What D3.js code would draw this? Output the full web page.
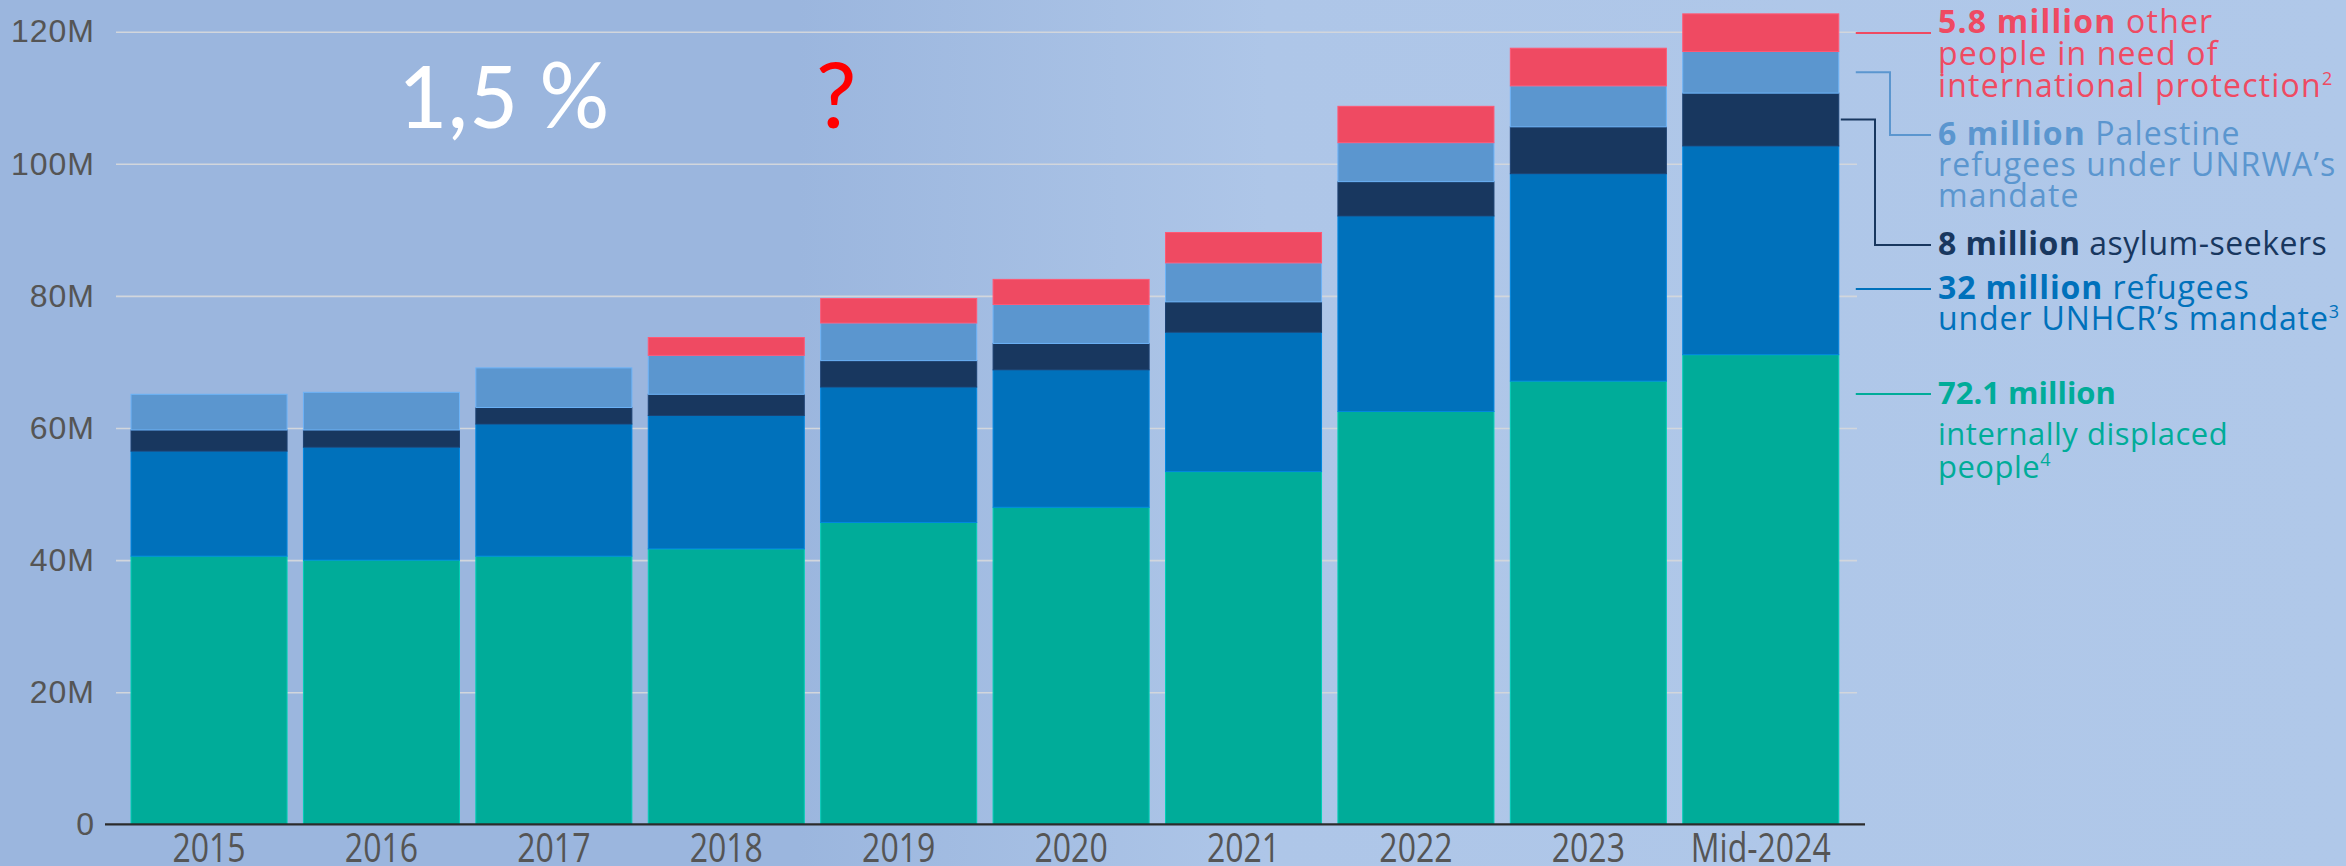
<!DOCTYPE html>
<html>
<head>
<meta charset="utf-8">
<script src="https://cdn.jsdelivr.net/npm/d3@7"></script>
<style>
  body { margin: 0; background: #a6bfe4; }
  svg { display: block; font-family: "Open Sans", sans-serif; }
</style>
</head>
<body>
<figure id="chart" style="margin:0"></figure>
<script>
// values in millions
const years = ['2015', '2016', '2017', '2018', '2019', '2020', '2021', '2022', '2023', 'Mid-2024'];
const idp = [40.6, 40.0, 40.6, 41.7, 45.7, 48.0, 53.4, 62.5, 67.1, 71.1];
const refugees = [15.9, 17.1, 20.0, 20.2, 20.5, 20.8, 21.1, 29.6, 31.4, 31.6];
const asylum = [3.2, 2.6, 2.5, 3.2, 4.0, 4.0, 4.6, 5.2, 7.1, 8.0];
const palestine = [5.4, 5.7, 6.0, 5.9, 5.7, 5.9, 5.9, 5.9, 6.2, 6.3];
const otherNeed = [0, 0, 0, 2.7, 3.7, 3.8, 4.6, 5.5, 5.7, 5.7];
const yTicks = [0, 20, 40, 60, 80, 100, 120];

const keys = ['idp', 'refugees', 'asylum', 'palestine', 'other'];
const colors = {
  idp: '#00ac99',
  refugees: '#0071bb',
  asylum: '#18375f',
  palestine: '#5b96cf',
  other: '#ef4a62'
};

// legend, top to bottom
const legendKeys = ['other', 'palestine', 'asylum', 'refugees', 'idp'];
const legendBold = ['5.8 million', '6 million', '8 million', '32 million', '72.1 million'];
const legendLines = [
  [' other', 'people in need of', 'international protection'],
  [' Palestine', 'refugees under UNRWA\u2019s', 'mandate'],
  [' asylum-seekers'],
  [' refugees', 'under UNHCR\u2019s mandate'],
  ['', 'internally displaced', 'people']
];
const legendSup = ['2', '', '', '3', '4'];

const width = 2346;
const height = 866;

const rows = years.map((yr, i) => ({
  year: yr,
  idp: idp[i],
  refugees: refugees[i],
  asylum: asylum[i],
  palestine: palestine[i],
  other: otherNeed[i]
}));

const svg = d3.select('figure#chart')
  .append('svg')
  .attr('width', width)
  .attr('height', height);

// background: slide gradient, darker left, lighter right
const grad = svg.append('defs').append('linearGradient')
  .attr('id', 'bg')
  .attr('x1', 0).attr('x2', 1).attr('y1', 0).attr('y2', 0);
grad.append('stop').attr('offset', 0.34).attr('stop-color', '#9bb6de');
grad.append('stop').attr('offset', 0.54).attr('stop-color', '#aec6e8');
grad.append('stop').attr('offset', 1).attr('stop-color', '#b0c8e9');
svg.append('rect')
  .attr('width', width)
  .attr('height', height)
  .attr('fill', 'url(#bg)');

const x = d3.scaleBand()
  .domain(years)
  .range([122.4, 1847.4])
  .paddingInner(0.095)
  .paddingOuter(0.05);

const y = d3.scaleLinear()
  .domain([0, 120])
  .range([824.3, 31.7]);

// gridlines + y labels
const gridLeft = 116;
const gridRight = 1857;
const yAxis = svg.append('g')
  .attr('transform', 'translate(' + gridLeft + ',0)')
  .call(d3.axisLeft(y)
    .tickValues(yTicks)
    .tickSize(-(gridRight - gridLeft))
    .tickPadding(21)
    .tickFormat(d => d === 0 ? '0' : d + 'M'));
yAxis.select('.domain').remove();
yAxis.selectAll('line')
  .attr('stroke', '#d2d6dc')
  .attr('stroke-width', 1.6)
  .filter(d => d === 0).remove();
yAxis.selectAll('text')
  .attr('fill', '#555555')
  .style('font-size', '32px')
  .style('letter-spacing', '1px');

// stacked bars
const stack = d3.stack().keys(keys);
const series = stack(rows);

svg.append('g')
  .selectAll('g')
  .data(series)
  .enter()
  .append('g')
  .attr('fill', d => colors[d.key])
  .attr('stroke', d => d3.color(colors[d.key]).brighter(0.5))
  .attr('stroke-width', 1)
  .selectAll('rect')
  .data(d => d.filter(p => p[1] - p[0] > 0))
  .enter()
  .append('rect')
  .attr('x', d => x(d.data.year))
  .attr('width', x.bandwidth())
  .attr('y', d => y(d[1]))
  .attr('height', d => y(d[0]) - y(d[1]));

// baseline
svg.append('line')
  .attr('x1', 105)
  .attr('x2', 1865)
  .attr('y1', y(0))
  .attr('y2', y(0))
  .attr('stroke', '#2b2b2b')
  .attr('stroke-width', 2.2);

// x labels (stretched like the source image)
svg.append('g')
  .selectAll('text')
  .data(years)
  .enter()
  .append('text')
  .attr('transform', d => 'translate(' + (x(d) + x.bandwidth() / 2) + ',862) scale(1,1.28)')
  .attr('text-anchor', 'middle')
  .attr('fill', '#555555')
  .style('font-size', '32px')
  .text(d => d);

// legend with leader lines off the last bar
const lastYear = years[years.length - 1];
const barRight = x(lastYear) + x.bandwidth();
const textX = 1938;
const lineEnd = 1931;
const legendY = [[33, 65, 97], [145, 176, 207], [255], [299, 330], [404, 445, 478]];
const legendSpacing = [1.2, 1.1, 0.5, 0.9, 0.5];
const elbowX = [null, 1890, 1875, null, null];
const leaderStartX = [barRight + 17, barRight + 17, barRight + 2, barRight + 17, barRight + 17];

legendKeys.forEach((key, i) => {
  const col = colors[key];
  const s = series.find(d => d.key === key)[rows.length - 1];
  const labelY = i === 0 ? legendY[i][0] : legendY[i][0] - 10;
  let y0 = labelY;
  if (i < 3) y0 = (y(s[0]) + y(s[1])) / 2;
  let path;
  if (elbowX[i] !== null) {
    path = 'M' + leaderStartX[i] + ',' + y0 + 'H' + elbowX[i] + 'V' + labelY + 'H' + lineEnd;
  } else {
    path = 'M' + leaderStartX[i] + ',' + labelY + 'H' + lineEnd;
  }
  svg.append('path')
    .attr('d', path)
    .attr('fill', 'none')
    .attr('stroke', col)
    .attr('stroke-width', 2);

  const isIdp = key === 'idp';
  const t = svg.append('text')
    .attr('fill', col)
    .style('font-size', isIdp ? '31px' : '32px')
    .style('letter-spacing', legendSpacing[i] + 'px');
  legendLines[i].forEach((line, j) => {
    if (j === 0) {
      t.append('tspan')
        .attr('x', textX)
        .attr('y', legendY[i][j])
        .attr('font-weight', 700)
        .style('letter-spacing', isIdp ? '0px' : null)
        .text(legendBold[i]);
      t.append('tspan').text(line);
    } else {
      t.append('tspan')
        .attr('x', textX)
        .attr('y', legendY[i][j])
        .text(line);
    }
  });
  if (legendSup[i]) {
    t.append('tspan')
      .attr('dy', -12)
      .style('font-size', '18px')
      .text(legendSup[i]);
  }
});

// annotations added on the slide
svg.append('text')
  .attr('x', 397)
  .attr('y', 128)
  .attr('fill', '#ffffff')
  .style('font-family', 'Carlito, Calibri, "Open Sans", sans-serif')
  .style('font-size', '96px')
  .text('1,5 %');

svg.append('text')
  .attr('x', 836)
  .attr('y', 128)
  .attr('text-anchor', 'middle')
  .attr('fill', '#ff0000')
  .style('font-family', 'Carlito, Calibri, "Open Sans", sans-serif')
  .style('font-size', '96px')
  .text('?');
</script>
</body>
</html>
